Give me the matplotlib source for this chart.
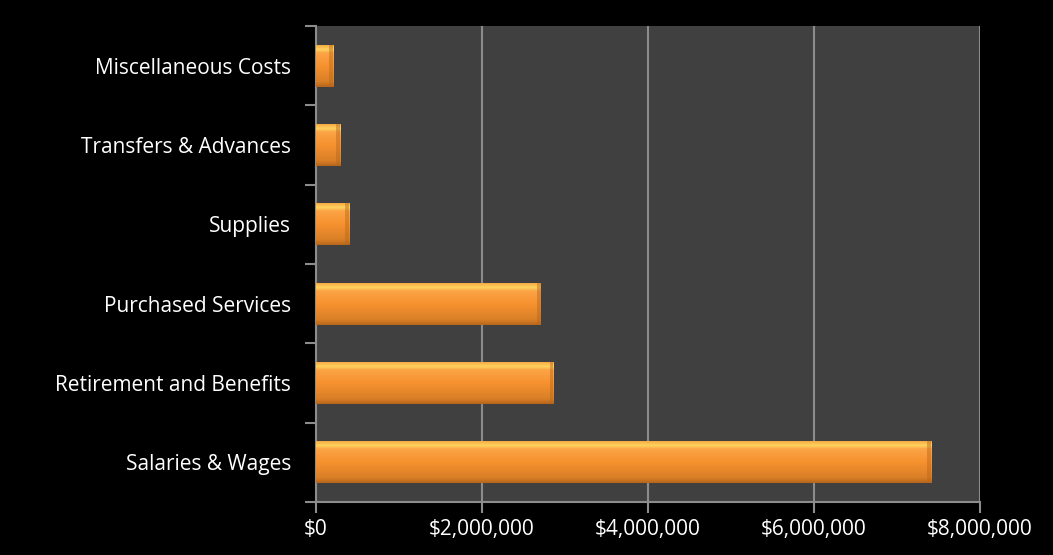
import matplotlib.pyplot as plt
import numpy as np
from matplotlib.colors import LinearSegmentedColormap

# 类别与金额（自下而上）
categories = ['Salaries & Wages', 'Retirement and Benefits', 'Purchased Services',
              'Supplies', 'Transfers & Advances', 'Miscellaneous Costs']
amounts = [7410000, 2860000, 2710000, 400000, 290000, 205000]
x_ticks = [0, 2000000, 4000000, 6000000, 8000000]
x_labels = ['$0', '$2,000,000', '$4,000,000', '$6,000,000', '$8,000,000']

plt.rcParams['font.family'] = ['Open Sans', 'DejaVu Sans']

fig = plt.figure(figsize=(10.53, 5.55), dpi=100, facecolor='black')
ax = fig.add_axes([0.3001, 0.0955, 0.6306, 0.8577])
ax.set_facecolor('#404040')

y = np.arange(len(categories))
bars = ax.barh(y, amounts, height=0.53, color='#F7922F', edgecolor='none', zorder=3)

# 立体感渐变
cmap = LinearSegmentedColormap.from_list('bevel', [
    (0.0, '#B8661C'), (0.12, '#D97F27'), (0.5, '#F7922F'),
    (0.8, '#FBA447'), (0.88, '#FFD45E'), (1.0, '#F5A340')])
grad = np.linspace(0, 1, 64).reshape(-1, 1)
for b in bars:
    x0, y0 = b.get_x(), b.get_y()
    w, h = b.get_width(), b.get_height()
    im = ax.imshow(grad, cmap=cmap, aspect='auto', origin='lower',
                   extent=[x0, x0 + w, y0, y0 + h], zorder=4)
    im.set_clip_path(b)
    # 右侧暗边
    edge_w = 45000
    ax.barh(y0 + h / 2, edge_w, left=x0 + w - edge_w,
            height=h, color='#B8661C', alpha=0.45, edgecolor='none', zorder=5)

ax.set_xlim(0, 8000000)
ax.set_ylim(-0.5, len(categories) - 0.5)
ax.set_xticks(x_ticks)
ax.set_xticklabels(x_labels)
ax.set_yticks(y)
ax.set_yticklabels(categories)
ax.set_yticks(np.arange(-0.5, len(categories), 1), minor=True)

ax.grid(axis='x', color='#8C8C8C', linewidth=1.5, zorder=1)
ax.tick_params(axis='y', which='major', length=0, pad=18, labelsize=15, colors='white')
ax.tick_params(axis='y', which='minor', length=8, width=1.5, color='#8C8C8C')
ax.tick_params(axis='x', length=8, width=1.5, color='#8C8C8C', labelsize=15,
               labelcolor='white', pad=4)

for s in ['top', 'right']:
    ax.spines[s].set_visible(False)
for s in ['left', 'bottom']:
    ax.spines[s].set_color('#8C8C8C')
    ax.spines[s].set_linewidth(1.5)

fig.savefig('out.png', dpi=100, facecolor='black')
